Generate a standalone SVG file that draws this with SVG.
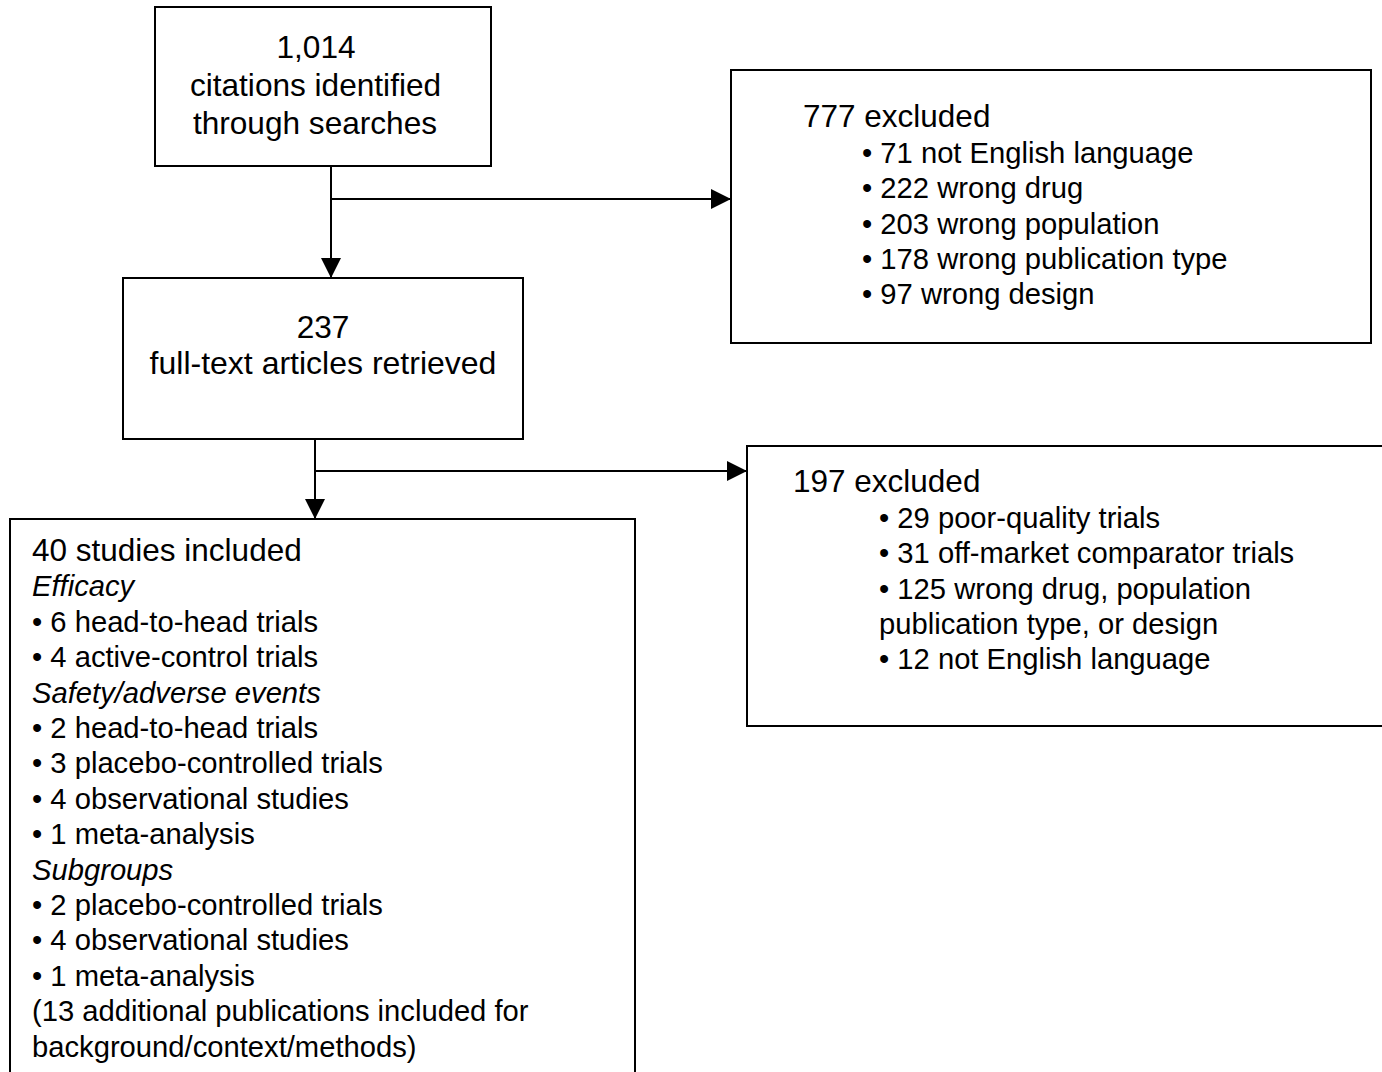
<svg xmlns="http://www.w3.org/2000/svg" width="1382" height="1072" viewBox="0 0 1382 1072">
<style>
.box{fill:#fff;stroke:#000;stroke-width:2}
.ln{fill:none;stroke:#000;stroke-width:2}
text{font-family:"Liberation Sans",Arial,sans-serif;font-size:29.2px;fill:#000}
.big{font-size:31.6px}
.hd{font-size:31.5px}
.c{text-anchor:middle}
.i{font-style:italic}
</style>
<defs>
<marker id="arr" markerUnits="userSpaceOnUse" markerWidth="20" markerHeight="20" refX="20" refY="10" orient="auto">
<path d="M0,0 L20,10 L0,20 z" fill="#000"/>
</marker>
</defs>
<rect width="1382" height="1072" fill="#fff"/>
<g id="connectors">
<line class="ln" x1="331" y1="166" x2="331" y2="278" marker-end="url(#arr)"/>
<line class="ln" x1="331" y1="199" x2="731" y2="199" marker-end="url(#arr)"/>
<line class="ln" x1="315" y1="439" x2="315" y2="519" marker-end="url(#arr)"/>
<line class="ln" x1="315" y1="471" x2="747" y2="471" marker-end="url(#arr)"/>
</g>
<g id="n1">
<rect class="box" x="155" y="7" width="336" height="159"/>
<text class="c big" x="316" y="58">1,014</text>
<text class="c big" x="315.5" y="96">citations identified</text>
<text class="c big" x="315" y="134">through searches</text>
</g>
<g id="n2">
<rect class="box" x="123" y="278" width="400" height="161"/>
<text class="c big" x="323" y="338">237</text>
<text class="c" style="font-size:32px" x="323" y="374">full-text articles retrieved</text>
</g>
<g id="n3">
<rect class="box" x="731" y="70" width="640" height="273"/>
<text class="hd" x="803" y="127">777 excluded</text>
<text x="862" y="163">• 71 not English language</text>
<text x="862" y="198">• 222 wrong drug</text>
<text x="862" y="234">• 203 wrong population</text>
<text x="862" y="269">• 178 wrong publication type</text>
<text x="862" y="304">• 97 wrong design</text>
</g>
<g id="n4">
<rect class="box" x="747" y="446" width="660" height="280"/>
<text class="hd" x="793" y="492">197 excluded</text>
<text x="879" y="528">• 29 poor-quality trials</text>
<text x="879" y="563">• 31 off-market comparator trials</text>
<text x="879" y="599">• 125 wrong drug, population</text>
<text x="879" y="634">publication type, or design</text>
<text x="879" y="669">• 12 not English language</text>
</g>
<g id="n5">
<rect class="box" x="10" y="519" width="625" height="570"/>
<text class="hd" x="32" y="561">40 studies included</text>
<text class="i" x="32" y="596">Efficacy</text>
<text x="32" y="632">• 6 head-to-head trials</text>
<text x="32" y="667">• 4 active-control trials</text>
<text class="i" x="32" y="703">Safety/adverse events</text>
<text x="32" y="738">• 2 head-to-head trials</text>
<text x="32" y="773">• 3 placebo-controlled trials</text>
<text x="32" y="809">• 4 observational studies</text>
<text x="32" y="844">• 1 meta-analysis</text>
<text class="i" x="32" y="880">Subgroups</text>
<text x="32" y="915">• 2 placebo-controlled trials</text>
<text x="32" y="950">• 4 observational studies</text>
<text x="32" y="986">• 1 meta-analysis</text>
<text x="32" y="1021">(13 additional publications included for</text>
<text x="32" y="1057">background/context/methods)</text>
</g>
</svg>
